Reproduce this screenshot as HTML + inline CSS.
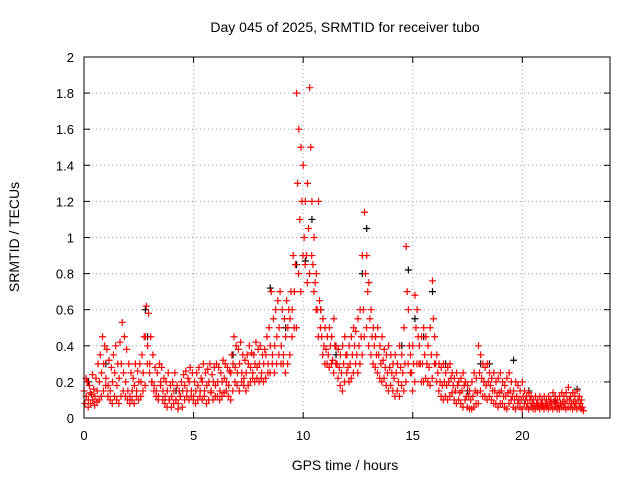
<!DOCTYPE html>
<html><head><meta charset="utf-8"><style>
html,body{margin:0;padding:0;background:#fff;}
svg{display:block;font-family:"Liberation Sans",sans-serif;}
</style></head><body>
<svg id="chart" width="640" height="480">
<text x="345" y="32" font-size="14" text-anchor="middle">Day 045 of 2025, SRMTID for receiver tubo</text>
<text x="345" y="470" font-size="14" text-anchor="middle">GPS time / hours</text>
<text x="19" y="237" font-size="14" text-anchor="middle" transform="rotate(-90 19 237)">SRMTID / TECUs</text>
<g id="grid"></g><g id="ticks"></g><g id="pts"></g>
<rect x="84" y="57" width="526" height="361" fill="none" stroke="#000" stroke-width="1"/>
</svg>
<script>
const xTicks=[0,5,10,15,20];
const yTicks=[0,0.2,0.4,0.6,0.8,1,1.2,1.4,1.6,1.8,2];
const yTickLabels=["0","0.2","0.4","0.6","0.8","1","1.2","1.4","1.6","1.8","2"];
const redStart=0, redStep=0.1;
const redV=[
[.15,.08,.22],[.12,.2,.06],[.1,.18,.14],[.08,.13,.24],[.1,.16,.07],[.12,.22,.09],[.15,.3,.1],[.2,.35,.12],[.25,.45,.15],[.3,.4,.18],
[.22,.38,.12],[.18,.32,.1],[.15,.28,.08],[.2,.35,.12],[.25,.4,.1],[.18,.3,.08],[.22,.42,.12],[.3,.53,.15],[.25,.45,.12],[.2,.38,.1],
[.15,.3,.08],[.12,.25,.1],[.15,.22,.08],[.18,.3,.12],[.15,.26,.1],[.2,.3,.12],[.2,.35,.15],[.25,.45,.18],[.45,.62,.3],[.4,.58,.25],
[.3,.45,.2],[.2,.35,.15],[.18,.28,.12],[.15,.25,.1],[.12,.3,.18],[.2,.28,.1],[.15,.22,.08],[.12,.2,.06],[.15,.25,.1],[.1,.18,.06],
[.12,.2,.08],[.15,.25,.1],[.1,.18,.05],[.08,.15,.12],[.12,.2,.06],[.15,.24,.1],[.18,.26,.12],[.15,.22,.1],[.2,.28,.12],[.15,.25,.1],
[.12,.2,.08],[.15,.25,.1],[.18,.28,.12],[.15,.22,.1],[.2,.3,.12],[.15,.25,.08],[.18,.27,.1],[.2,.3,.14],[.15,.24,.1],[.2,.28,.12],
[.18,.3,.12],[.2,.28,.1],[.15,.25,.12],[.2,.32,.14],[.22,.3,.15],[.2,.28,.12],[.18,.26,.1],[.25,.35,.15],[.3,.45,.2],[.28,.4,.18],
[.25,.38,.15],[.3,.42,.2],[.25,.35,.18],[.22,.32,.15],[.25,.35,.18],[.3,.4,.2],[.28,.36,.22],[.25,.35,.2],[.3,.42,.22],[.28,.38,.2],
[.3,.4,.22],[.25,.35,.2],[.3,.38,.22],[.35,.45,.25],[.3,.5,.25],[.4,.7,.3],[.35,.55,.25],[.4,.6,.3],[.45,.65,.35],[.5,.7,.3],
[.4,.6,.3],[.35,.55,.25],[.45,.65,.3],[.5,.6,.35],[.55,.7,.45],[.6,.9,.5],[.7,.85,.5],[1.8,1.3,.8],[1.6,1.1,.7],[1.5,1.2,.9],
[1.4,1.0,.85],[1.2,.9,.75],[1.3,1.05,.8],[1.83,1.5,.9],[1.2,.85,.7],[1.0,.75,.6],[.8,.6,.45],[1.2,.65,.5],[.6,.45,.35],[.55,.4,.3],
[.5,.38,.3],[.45,.35,.28],[.5,.4,.3],[.45,.32,.25],[.55,.4,.3],[.4,.3,.22],[.38,.28,.18],[.35,.25,.15],[.4,.3,.2],[.45,.35,.25],
[.35,.28,.2],[.4,.3,.22],[.45,.35,.25],[.5,.4,.3],[.48,.35,.25],[.55,.4,.3],[.6,.45,.35],[.9,.6,.45],[1.14,.8,.5],[.9,.7,.4],
[.75,.55,.35],[.6,.45,.3],[.5,.4,.28],[.45,.35,.25],[.5,.35,.22],[.4,.3,.2],[.45,.32,.22],[.38,.28,.18],[.35,.25,.15],[.4,.28,.18],
[.35,.25,.15],[.3,.22,.12],[.35,.25,.15],[.3,.2,.12],[.4,.28,.18],[.35,.25,.15],[.5,.3,.2],[.95,.7,.3],[.6,.4,.25],[.35,.25,.15],
[.4,.3,.2],[.68,.5,.3],[.6,.45,.3],[.4,.3,.2],[.45,.3,.2],[.5,.35,.22],[.45,.3,.2],[.4,.28,.18],[.5,.35,.22],[.76,.55,.3],
[.45,.3,.2],[.35,.25,.15],[.3,.2,.12],[.28,.18,.1],[.3,.2,.12],[.25,.18,.1],[.28,.2,.12],[.3,.22,.14],[.25,.18,.1],[.22,.15,.08],
[.25,.18,.1],[.2,.14,.08],[.22,.15,.06],[.25,.18,.1],[.2,.12,.06],[.18,.12,.05],[.15,.1,.05],[.2,.12,.06],[.25,.15,.08],[.22,.14,.08],
[.4,.25,.15],[.35,.22,.12],[.3,.2,.12],[.28,.18,.1],[.3,.2,.12],[.25,.18,.1],[.22,.15,.08],[.25,.15,.08],[.2,.12,.06],[.22,.14,.08],
[.25,.15,.08],[.2,.12,.06],[.18,.12,.05],[.22,.14,.08],[.25,.15,.1],[.2,.12,.06],[.15,.1,.05],[.2,.12,.08],[.18,.1,.06],[.15,.1,.05],
[.2,.12,.08],[.15,.1,.06],[.12,.08,.05],[.14,.1,.06],[.12,.08,.05],[.1,.07,.05],[.12,.08,.06],[.1,.07,.05],[.12,.08,.06],[.1,.07,.05],
[.12,.08,.06],[.1,.07,.05],[.12,.09,.06],[.1,.08,.05],[.14,.09,.06],[.12,.08,.05],[.1,.07,.05],[.12,.08,.06],[.14,.09,.06],[.12,.08,.05],
[.14,.1,.06],[.17,.1,.06],[.12,.08,.05],[.14,.09,.06],[.12,.08,.05],[.15,.1,.06],[.12,.08,.05],[.1,.06,.04]
];
const blackT=[0.2,1.0,2.8,2.9,4.2,6.8,8.5,9.2,9.7,10.1,10.4,10.8,11.5,12.7,12.9,13.3,14.5,14.8,15.1,15.5,15.9,16.5,17.5,18.1,18.5,19.6,20.3,21.5,22.5];
const blackV=[0.2,0.3,0.6,0.45,0.15,0.35,0.72,0.5,0.85,0.87,1.1,0.6,0.35,0.8,1.05,0.45,0.4,0.82,0.55,0.45,0.7,0.3,0.15,0.3,0.3,0.32,0.15,0.1,0.16];
const X0=84,X1=610,Y0=418,Y1=57,XMAX=24,YMAX=2;
const xs=v=>X0+(X1-X0)*v/XMAX, ys=v=>Y0-(Y0-Y1)*v/YMAX;
const NS="http://www.w3.org/2000/svg";
const grid=document.getElementById('grid'),ticks=document.getElementById('ticks'),pts=document.getElementById('pts');
function mk(t,a,p){const e=document.createElementNS(NS,t);for(const k in a)e.setAttribute(k,a[k]);p.appendChild(e);return e;}
xTicks.forEach(v=>{const x=xs(v);
 if(v>0){const g=mk('line',{x1:x,x2:x,y1:Y0,y2:Y1,stroke:'#a0a0a0','stroke-dasharray':'1,3'},grid);
 
 }
 mk('line',{x1:x,x2:x,y1:Y0,y2:Y0-6,stroke:'#000'},ticks);mk('line',{x1:x,x2:x,y1:Y1,y2:Y1+6,stroke:'#000'},ticks);
 const t=mk('text',{x:x,y:Y0+22,'font-size':13,'text-anchor':'middle'},ticks);t.textContent=v;
 
 });
yTicks.forEach((v,i)=>{const y=ys(v);
 if(v>0&&v<YMAX){const g=mk('line',{x1:X0,x2:X1,y1:y,y2:y,stroke:'#a0a0a0','stroke-dasharray':'1,3'},grid);
 
 }
 mk('line',{x1:X0,x2:X0+6,y1:y,y2:y,stroke:'#000'},ticks);mk('line',{x1:X1,x2:X1-6,y1:y,y2:y,stroke:'#000'},ticks);
 const t=mk('text',{x:X0-10,y:y+5,'font-size':13,'text-anchor':'end'},ticks);t.textContent=yTickLabels[i];
 
 });
function plus(t,v,c,name){const x=xs(t),y=ys(v);
 const p=mk('path',{d:`M${x-3.5} ${y}h7M${x} ${y-3.5}v7`,stroke:c,'stroke-width':1.2,fill:'none'},pts);
 
 }
blackT.forEach((t,i)=>plus(t,blackV[i],'#000','black-point'));
redV.forEach((g,i)=>{const t=redStart+i*redStep;g.forEach((v,j)=>plus(t+j*0.045,v,'#ff0000','red-point'));});
</script>
</body></html>
